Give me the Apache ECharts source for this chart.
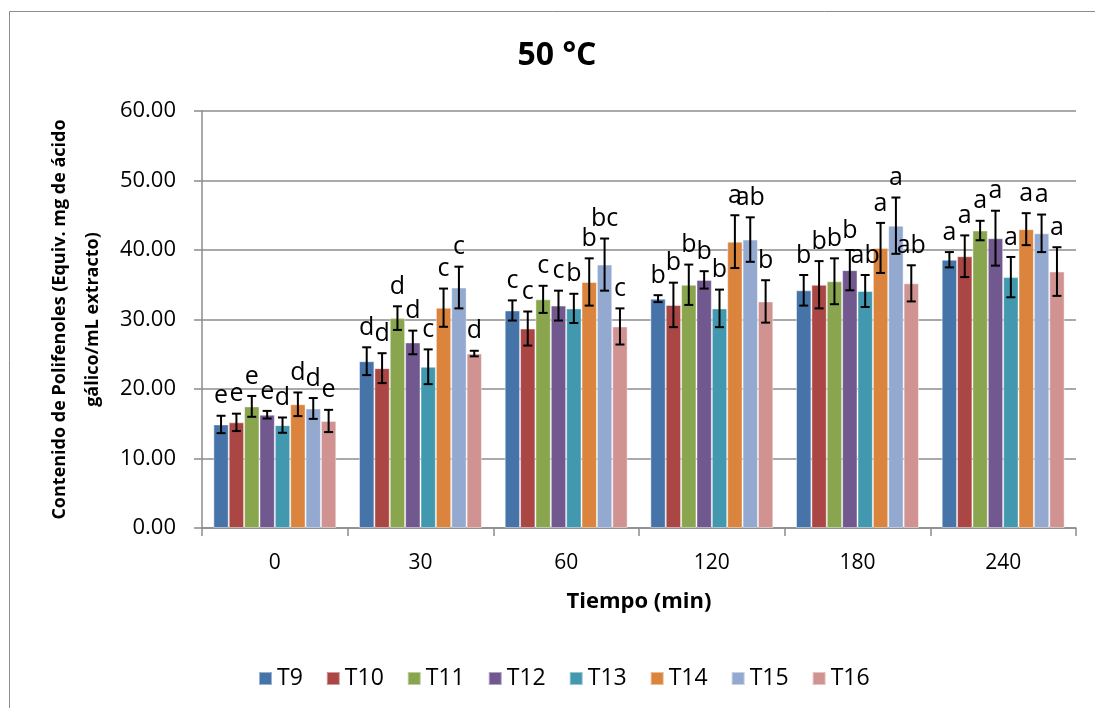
<!DOCTYPE html>
<html><head><meta charset="utf-8">
<script src="https://cdn.jsdelivr.net/npm/echarts@6/dist/echarts.min.js"></script>
<style>html,body{margin:0;padding:0;background:#fff}#c{width:1095px;height:708px}</style>
</head><body><div id="c"></div>
<script>
const categories = ['0', '30', '60', '120', '180', '240'];
const names = ['T9', 'T10', 'T11', 'T12', 'T13', 'T14', 'T15', 'T16'];
const T9  = [14.9, 24.0, 31.3, 33.0, 34.2, 38.6];
const T10 = [15.2, 23.0, 28.7, 32.1, 35.0, 39.1];
const T11 = [17.5, 30.2, 32.9, 35.0, 35.5, 42.8];
const T12 = [16.3, 26.7, 32.0, 35.7, 37.1, 41.7];
const T13 = [14.8, 23.2, 31.6, 31.6, 34.1, 36.1];
const T14 = [17.8, 31.7, 35.4, 41.2, 40.3, 43.0];
const T15 = [17.2, 34.6, 37.9, 41.5, 43.5, 42.4];
const T16 = [15.4, 25.1, 29.0, 32.6, 35.2, 36.9];
const T9err  = [1.25, 2.0, 1.45, 0.5, 2.2, 1.1];
const T10err = [1.25, 2.15, 2.45, 3.2, 3.4, 3.0];
const T11err = [1.5, 1.7, 1.95, 2.9, 3.3, 1.4];
const T12err = [0.55, 1.7, 2.15, 1.25, 2.9, 3.95];
const T13err = [1.1, 2.5, 2.1, 2.7, 2.3, 2.9];
const T14err = [1.7, 2.75, 3.4, 3.8, 3.6, 2.3];
const T15err = [1.5, 3.0, 3.75, 3.2, 4.05, 2.7];
const T16err = [1.6, 0.4, 2.6, 3.05, 2.6, 3.5];
const T9let  = ['e', 'd', 'c', 'b', 'b', 'a'];
const T10let = ['e', 'd', 'c', 'b', 'b', 'a'];
const T11let = ['e', 'd', 'c', 'b', 'b', 'a'];
const T12let = ['e', 'd', 'c', 'b', 'b', 'a'];
const T13let = ['d', 'c', 'b', 'b', 'ab', 'a'];
const T14let = ['d', 'c', 'b', 'a', 'a', 'a'];
const T15let = ['d', 'c', 'bc', 'ab', 'a', 'a'];
const T16let = ['e', 'd', 'c', 'b', 'ab', 'a'];
const yTicks = [0, 10, 20, 30, 40, 50, 60];

const vals = [T9, T10, T11, T12, T13, T14, T15, T16];
const errs = [T9err, T10err, T11err, T12err, T13err, T14err, T15err, T16err];
const lets = [T9let, T10let, T11let, T12let, T13let, T14let, T15let, T16let];
const colors = ['#4673A8', '#AA4644', '#89A54E', '#71588F', '#4198AF', '#DB843D', '#93A9CF', '#D19392'];
const CAT_GAP = 0.156;
const FONT = 'Open Sans';

const series = [];
names.forEach((n, si) => {
  series.push({
    type: 'bar', name: n, data: vals[si],
    barGap: '0%', barCategoryGap: (CAT_GAP * 100) + '%',
    itemStyle: { color: colors[si], borderColor: 'rgba(255,255,255,0.45)', borderWidth: 1 },
    emphasis: { disabled: true }
  });
});
names.forEach((n, si) => {
  series.push({
    type: 'custom', name: n + ' err', z: 5,
    data: categories.map((c, i) => [i, vals[si][i], errs[si][i]]),
    renderItem: function (params, api) {
      const ci = api.value(0), v = api.value(1), e = api.value(2);
      const band = api.size([1, 0])[0];
      const gw = band * (1 - CAT_GAP);
      const bw = gw / names.length;
      const cx = api.coord([ci, 0])[0] - gw / 2 + (si + 0.5) * bw;
      const yT = api.coord([ci, v + e])[1];
      const yB = api.coord([ci, v - e])[1];
      const cap = 4.5;
      const st = { stroke: '#000', lineWidth: 2 };
      return {
        type: 'group', children: [
          { type: 'line', shape: { x1: cx, y1: yT, x2: cx, y2: yB }, style: st },
          { type: 'line', shape: { x1: cx - cap, y1: yT, x2: cx + cap, y2: yT }, style: st },
          { type: 'line', shape: { x1: cx - cap, y1: yB, x2: cx + cap, y2: yB }, style: st },
          { type: 'text', style: { text: lets[si][params.dataIndex], x: cx, y: yT - 7, align: 'center', verticalAlign: 'bottom', fontFamily: FONT, fontSize: 25, fill: '#000' } }
        ]
      };
    }
  });
});

const chart = echarts.init(document.getElementById('c'));
chart.setOption({
  animation: false,
  backgroundColor: '#fff',
  textStyle: { fontFamily: FONT },
  graphic: [
    { type: 'rect', shape: { x: 9.5, y: 11.5, width: 1100, height: 720 }, style: { fill: 'none', stroke: '#8c8c8c', lineWidth: 1 }, silent: true },
    { type: 'text', style: { text: '50 °C', x: 557, y: 56, align: 'center', verticalAlign: 'middle', fontFamily: FONT, fontWeight: 'bold', fontSize: 32, fill: '#000' } }
  ],
  legend: {
    data: names, top: 662, left: 253, icon: 'rect', itemWidth: 13, itemHeight: 13, itemGap: 23,
    textStyle: { fontFamily: FONT, fontSize: 23, color: '#000' }, selectedMode: false
  },
  grid: { left: 202, right: 19, top: 111, bottom: 180 },
  xAxis: {
    type: 'category', data: categories,
    name: 'Tiempo (min)', nameLocation: 'middle', nameGap: 63,
    nameTextStyle: { fontFamily: FONT, fontWeight: 'bold', fontSize: 22, color: '#000' },
    axisLine: { lineStyle: { color: '#8c8c8c', width: 1.5 } },
    axisTick: { show: true, length: 8, alignWithLabel: false, lineStyle: { color: '#8c8c8c', width: 1.5 } },
    axisLabel: { fontFamily: FONT, fontSize: 21, color: '#000', margin: 25 }
  },
  yAxis: {
    type: 'value', min: 0, max: 60, interval: 10,
    name: 'Contenido de Polifenoles (Equiv. mg de ácido\ngálico/mL extracto)',
    nameLocation: 'middle', nameGap: 88, nameRotate: 90,
    nameTextStyle: { fontFamily: FONT, fontWeight: 'bold', fontSize: 18, color: '#000', lineHeight: 33, align: 'center' },
    axisLine: { show: true, lineStyle: { color: '#8c8c8c', width: 1.5 } },
    axisTick: { show: true, length: 8, lineStyle: { color: '#8c8c8c', width: 1.5 } },
    splitLine: { lineStyle: { color: '#8c8c8c', width: 1.5 } },
    axisLabel: { fontFamily: FONT, fontSize: 22, color: '#000', margin: 26, formatter: v => yTicks.includes(v) ? v.toFixed(2) : '' }
  },
  series: series
});
</script></body></html>
